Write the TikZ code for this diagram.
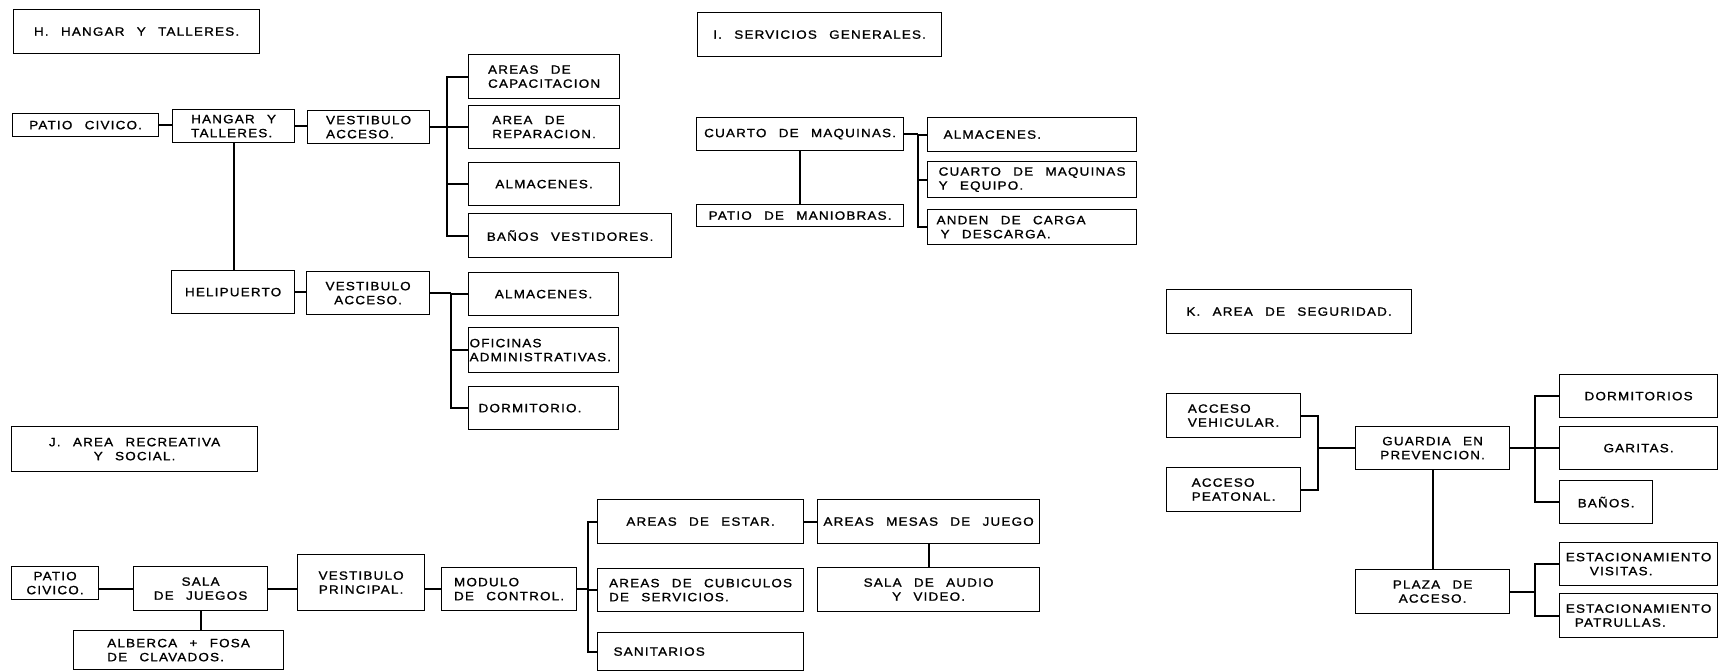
\documentclass[tikz,border=0pt]{standalone}
\usepackage{fontspec}
\setmainfont{Liberation Sans}[FakeStretch=1.12, FakeBold=1.2, LetterSpace=10, WordSpace=2.5]
\begin{document}
\begin{tikzpicture}[x=1pt, y=-1pt,
    caja/.style={draw, line width=1.2pt, anchor=north west, inner xsep=0pt,
      inner ysep=0pt, font=\fontsize{12}{14}\selectfont},
    linea/.style={line width=2.2pt}]
  \useasboundingbox (0,0) rectangle (1719,672);

  % H. hangar y talleres
  \node[caja, minimum width=246, minimum height=44] (tituloH) at (13,9) {H. HANGAR Y TALLERES.};
  \node[caja, minimum width=146, minimum height=23] (patioH) at (12,113) {PATIO CIVICO.};
  \node[caja, minimum width=122, minimum height=33, align=left] (hangar) at (172,109) {HANGAR Y\\TALLERES.};
  \node[caja, minimum width=122, minimum height=33, align=left] (vestH) at (307,110) {VESTIBULO\\ACCESO.};
  \node[caja, minimum width=151, minimum height=44, align=left] (capac) at (468,54) {AREAS DE\\CAPACITACION};
  \node[caja, minimum width=151, minimum height=43, align=left] (repar) at (468,105) {AREA DE\\REPARACION.};
  \node[caja, minimum width=151, minimum height=43] (almH) at (468,162) {ALMACENES.};
  \node[caja, minimum width=203, minimum height=44] (banosV) at (468,213) {BAÑOS VESTIDORES.};
  \node[caja, minimum width=123, minimum height=43] (heli) at (171,270) {HELIPUERTO};
  \node[caja, minimum width=123, minimum height=43, align=center] (vestHe) at (306,271) {VESTIBULO\\ACCESO.};
  \node[caja, minimum width=150, minimum height=43] (almHe) at (468,272) {ALMACENES.};
  \node[caja, inner xsep=1, text width=148, minimum height=45, align=flush left] (ofic) at (468,327) {OFICINAS\\ADMINISTRATIVAS.};
  \node[caja, inner xsep=10, text width=130, minimum height=43, align=flush left] (dormit) at (468,386) {DORMITORIO.};

  \draw[linea] (patioH.east) -- (patioH.east -| hangar.west);
  \draw[linea] (hangar.east) -- (hangar.east -| vestH.west);
  \coordinate (ramaH) at (447,0);
  \draw[linea] (vestH.east) -- (vestH.east -| ramaH);
  \draw[linea] (capac.west) -- (capac.west -| ramaH) -- (banosV.west -| ramaH) -- (banosV.west);
  \foreach \n in {repar,almH}
    \draw[linea] (\n.west -| ramaH) -- (\n.west);
  \draw[linea] (hangar.south) -- (hangar.south |- heli.north);
  \draw[linea] (heli.east) -- (heli.east -| vestHe.west);
  \coordinate (ramaHe) at (451,0);
  \draw[linea] (vestHe.east) -- (vestHe.east -| ramaHe);
  \draw[linea] (almHe.west) -- (almHe.west -| ramaHe) -- (dormit.west -| ramaHe) -- (dormit.west);
  \draw[linea] (ofic.west -| ramaHe) -- (ofic.west);

  % I. servicios generales
  \node[caja, minimum width=244, minimum height=44] (tituloI) at (697,12) {I. SERVICIOS GENERALES.};
  \node[caja, minimum width=207, minimum height=33] (cuarto) at (696,117) {CUARTO DE MAQUINAS.};
  \node[caja, minimum width=207, minimum height=22] (maniob) at (696,204) {PATIO DE MANIOBRAS.};
  \node[caja, inner xsep=16, text width=177, minimum height=34, align=flush left] (almI) at (927,117) {ALMACENES.};
  \node[caja, minimum width=209, minimum height=36, align=left] (equipo) at (927,161) {CUARTO DE MAQUINAS\\Y EQUIPO.};
  \node[caja, inner xsep=9, text width=191, minimum height=35, align=flush left] (anden) at (927,209) {ANDEN DE CARGA\\\hspace*{4pt}Y DESCARGA.};

  \draw[linea] (cuarto.south) -- (maniob.north);
  \coordinate (ramaI) at (918,0);
  \draw[linea] (cuarto.east) -- (cuarto.east -| ramaI);
  \draw[linea] (almI.west) -- (almI.west -| ramaI) -- (anden.west -| ramaI) -- (anden.west);
  \draw[linea] (equipo.west -| ramaI) -- (equipo.west);

  % J. area recreativa y social
  \node[caja, minimum width=246, minimum height=45, align=center] (tituloJ) at (11,426) {J. AREA RECREATIVA\\Y SOCIAL.};
  \node[caja, minimum width=87, minimum height=33, align=center] (patioJ) at (11,566) {PATIO\\CIVICO.};
  \node[caja, minimum width=134, minimum height=44, align=center] (sala) at (133,566) {SALA\\DE JUEGOS};
  \node[caja, minimum width=127, minimum height=56, align=center] (vestP) at (297,554) {VESTIBULO\\PRINCIPAL.};
  \node[caja, minimum width=135, minimum height=43, align=left] (modulo) at (441,567) {MODULO\\DE CONTROL.};
  \node[caja, minimum width=210, minimum height=39, align=left] (alberca) at (73,630) {ALBERCA + FOSA\\DE CLAVADOS.};
  \node[caja, minimum width=206, minimum height=44] (estar) at (597,499) {AREAS DE ESTAR.};
  \node[caja, minimum width=206, minimum height=43, align=left] (cubic) at (597,568) {AREAS DE CUBICULOS\\DE SERVICIOS.};
  \node[caja, inner xsep=16, text width=174, minimum height=38, align=flush left] (sanit) at (597,632) {SANITARIOS};
  \node[caja, minimum width=222, minimum height=44] (mesas) at (817,499) {AREAS MESAS DE JUEGO};
  \node[caja, minimum width=222, minimum height=44, align=center] (audio) at (817,567) {SALA DE AUDIO\\Y VIDEO.};

  \draw[linea] (sala.west) -- (sala.west -| patioJ.east);
  \draw[linea] (sala.east) -- (sala.east -| vestP.west);
  \draw[linea] (modulo.west) -- (modulo.west -| vestP.east);
  \draw[linea] (sala.south) -- (sala.south |- alberca.north);
  \coordinate (ramaJ) at (588,0);
  \draw[linea] (modulo.east) -- (modulo.east -| ramaJ);
  \draw[linea] (estar.west) -- (estar.west -| ramaJ) -- (sanit.west -| ramaJ) -- (sanit.west);
  \draw[linea] (cubic.west -| ramaJ) -- (cubic.west);
  \draw[linea] (estar.east) -- (estar.east -| mesas.west);
  \draw[linea] (mesas.south) -- (audio.north);

  % K. area de seguridad
  \node[caja, minimum width=245, minimum height=44] (tituloK) at (1166,289) {K. AREA DE SEGURIDAD.};
  \node[caja, minimum width=134, minimum height=44, align=left] (vehic) at (1166,393) {ACCESO\\VEHICULAR.};
  \node[caja, minimum width=134, minimum height=44, align=left] (peat) at (1166,467) {ACCESO\\PEATONAL.};
  \node[caja, minimum width=154, minimum height=43, align=center] (guardia) at (1355,426) {GUARDIA EN\\PREVENCION.};
  \node[caja, minimum width=154, minimum height=44, align=center] (plaza) at (1355,569) {PLAZA DE\\ACCESO.};
  \node[caja, minimum width=158, minimum height=43] (dormK) at (1559,374) {DORMITORIOS};
  \node[caja, minimum width=158, minimum height=43] (garitas) at (1559,426) {GARITAS.};
  \node[caja, minimum width=93, minimum height=43] (banosK) at (1559,480) {BAÑOS.};
  \node[caja, minimum width=158, minimum height=43, align=left] (visitas) at (1559,542) {ESTACIONAMIENTO\\\hspace*{24pt}VISITAS.};
  \node[caja, minimum width=158, minimum height=44, align=left] (patrullas) at (1559,593) {ESTACIONAMIENTO\\\hspace*{9pt}PATRULLAS.};

  \coordinate (ramaK) at (1318,0);
  \draw[linea] (vehic.east) -- (vehic.east -| ramaK) -- (peat.east -| ramaK) -- (peat.east);
  \draw[linea] (guardia.west) -- (guardia.west -| ramaK);
  \draw[linea] (guardia.south) -- (plaza.north);
  \coordinate (ramaK2) at (1535,0);
  \draw[linea] (guardia.east) -- (guardia.east -| ramaK2);
  \draw[linea] (dormK.west) -- (dormK.west -| ramaK2) -- (banosK.west -| ramaK2) -- (banosK.west);
  \draw[linea] (garitas.west -| ramaK2) -- (garitas.west);
  \draw[linea] (plaza.east) -- (plaza.east -| ramaK2);
  \draw[linea] (visitas.west) -- (visitas.west -| ramaK2) -- (patrullas.west -| ramaK2) -- (patrullas.west);
\end{tikzpicture}
\end{document}
